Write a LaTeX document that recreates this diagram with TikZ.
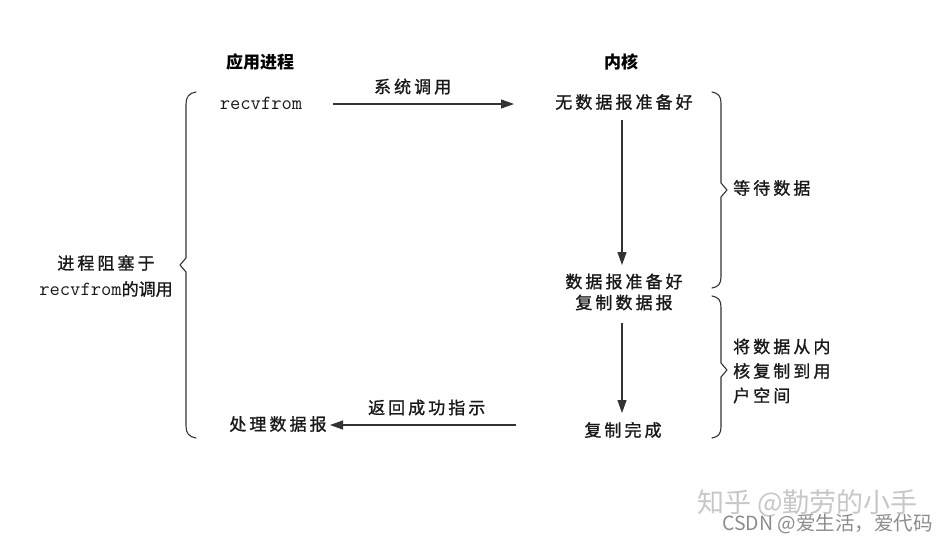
\documentclass[tikz,border=0pt]{standalone}
\usepackage{fontspec}
\setmainfont{Noto Sans CJK SC}
\newfontfamily\cjksp[LetterSpace=18,FakeBold=1.2]{Noto Sans CJK SC}
\newfontfamily\cjkn[FakeBold=1.2]{Noto Sans CJK SC}
\usetikzlibrary{arrows.meta}
\begin{document}
\begin{tikzpicture}[x=1pt,y=-1pt,
  lbl/.style={inner sep=0pt, font=\cjksp\fontsize{17}{22}\selectfont, text=black!90},
  hdr/.style={inner sep=0pt, font=\fontsize{17}{22}\selectfont\bfseries, text=black},
  mono/.style={inner sep=0pt, font=\ttfamily\fontsize{20}{22}\selectfont, text=black!90},
  arr/.style={draw=black!80, line width=1.1pt, -{Triangle[length=13pt,width=9pt]}},
  brc/.style={draw=black!80, line width=1.1pt, line join=round, line cap=round},
  wm/.style={inner sep=0pt, text=black!22}]
\useasboundingbox[fill=white] (0,0) rectangle (948,544);

% headings
\node[hdr] (app) at (260,62) {应用进程};
\node[hdr] (kern) at (621,62) {内核};

% left column
\node[mono] (recv) at (261,103) {recvfrom};
\node[lbl] (proc) at (278,424) {处理数据报};

% kernel column
\node[lbl] (nodata) at (624,102) {无数据报准备好};
\node[lbl, align=center, font=\cjksp\fontsize{17}{21}\selectfont] (ready) at (624,292) {数据报准备好\\复制数据报};
\node[lbl] (done) at (623,430) {复制完成};

% left brace label
\node[inner sep=0pt, align=center, text=black!90, font=\cjkn\fontsize{17}{26}\selectfont] (block) at (106,276)
  {{\cjksp 进程阻塞于}\\{\ttfamily\fontsize{20}{26}\selectfont recvfrom}的调用};

% right brace labels
\node[lbl, anchor=west] (wait) at (733,188) {等待数据};
\node[lbl, anchor=west, align=left, font=\cjksp\fontsize{17}{24.5}\selectfont] (copy) at (733,371)
  {将数据从内\\核复制到用\\户空间};

% connector end points
\coordinate (s1) at (333,104);
\coordinate (e1) at (514,104);
\coordinate (s2) at (516,425);
\coordinate (e2) at (330,425);
\coordinate (v1s) at (622,120);
\coordinate (v1e) at (622,265);
\coordinate (v2s) at (622,323);
\coordinate (v2e) at (622,413);

\draw[arr] (s1) -- node[lbl, above=9pt, pos=0.44] (syscall) {系统调用} (e1);
\draw[arr] (s2) -- node[lbl, above=9pt, pos=0.48] (ret) {返回成功指示} (e2);
\draw[arr] (v1s) -- (v1e);
\draw[arr] (v2s) -- (v2e);

% braces
\draw[brc] (196,92) .. controls (189,93) and (186,97) .. (186,104)
  -- (186,258) -- (180,265) -- (186,272) -- (186,426)
  .. controls (186,433) and (189,437) .. (196,438);
\draw[brc] (712,92) .. controls (718,93) and (721,96) .. (721,103)
  -- (721,183) -- (727,190) -- (721,197) -- (721,277)
  .. controls (721,284) and (718,287) .. (712,288);
\draw[brc] (712,296) .. controls (718,297) and (721,300) .. (721,307)
  -- (721,363) -- (727,370) -- (721,377) -- (721,427)
  .. controls (721,434) and (718,437) .. (712,438);

% watermarks
\node[wm, font=\fontsize{27}{30}\selectfont, anchor=west] (zh) at (697,503) {知乎 @勤劳的小手};
\node[wm, text=black!45, font=\fontsize{19.5}{22}\selectfont, anchor=west] (csdn) at (722,524) {CSDN @爱生活，爱代码};
\end{tikzpicture}
\end{document}
